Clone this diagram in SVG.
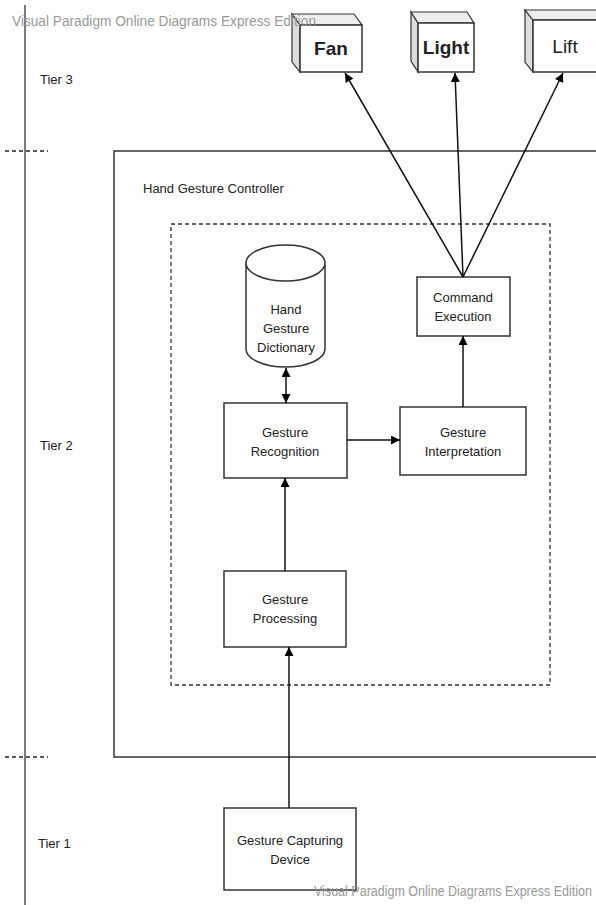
<svg xmlns="http://www.w3.org/2000/svg" width="596" height="905" viewBox="0 0 596 905">
<defs>
<marker id="ah" viewBox="0 0 10 10" refX="10" refY="5" markerWidth="9" markerHeight="9" markerUnits="userSpaceOnUse" orient="auto-start-reverse">
<path d="M0,0 L10,5 L0,10 z" fill="#000"/>
</marker>
</defs>
<style>
text{font-family:"Liberation Sans",Arial,sans-serif;fill:#222;font-size:13px}
.c{text-anchor:middle}
.box{fill:#fff;stroke:#333;stroke-width:1.5}
.wm{fill:#999;font-size:14px}
.conn{stroke:#111;stroke-width:1.5;fill:none}
.side{fill:#ddd;stroke:#333;stroke-width:1.2}
.top{fill:#eee;stroke:#333;stroke-width:1.2}
.big{font-size:19px;font-weight:bold}
</style>
<rect width="596" height="905" fill="#fff"/>
<g id="tiers">
<line x1="25" y1="5" x2="25" y2="905" stroke="#222" stroke-width="1.2"/>
<line x1="5" y1="151" x2="48" y2="151" stroke="#222" stroke-width="1.5" stroke-dasharray="4,3"/>
<line x1="5" y1="757" x2="48" y2="757" stroke="#222" stroke-width="1.5" stroke-dasharray="4,3"/>
<text x="40" y="84">Tier 3</text>
<text x="40" y="450">Tier 2</text>
<text x="38" y="848">Tier 1</text>
</g>
<g id="controller">
<rect x="114" y="151" width="490" height="606" fill="none" stroke="#333" stroke-width="1.5"/>
<text x="143" y="193">Hand Gesture Controller</text>
<rect x="171" y="224" width="379" height="461" fill="none" stroke="#333" stroke-width="1.3" stroke-dasharray="4,3"/>
</g>
<g id="fan">
<path class="side" d="M300,25 L292,14 L292,62 L300,72 z"/>
<path class="top" d="M300,25 L292,14 L354,14 L362,25 z"/>
<rect class="box" x="300" y="25" width="62" height="47"/>
<text class="c big" x="331" y="55">Fan</text>
</g>
<g id="light">
<path class="side" d="M418,23 L411,12 L411,61 L418,72 z"/>
<path class="top" d="M418,23 L411,12 L467,12 L474,23 z"/>
<rect class="box" x="418" y="23" width="56" height="49"/>
<text class="c big" x="446" y="54">Light</text>
</g>
<g id="lift">
<path class="side" d="M533,20 L525,10 L525,62 L533,72 z"/>
<path class="top" d="M533,20 L525,10 L600,10 L608,20 z"/>
<rect class="box" x="533" y="20" width="75" height="52"/>
<text class="c" x="565" y="53" style="font-size:19px">Lift</text>
</g>
<g id="dictionary">
<path class="box" d="M246,263 L246,349 A39.5,18 0 0 0 325,349 L325,263 A39.5,18 0 0 0 246,263 A39.5,18 0 0 0 325,263"/>
<text class="c" x="286" y="314">Hand</text>
<text class="c" x="286" y="333">Gesture</text>
<text class="c" x="286" y="352">Dictionary</text>
</g>
<g id="command">
<rect class="box" x="417" y="277" width="93" height="59"/>
<text class="c" x="463" y="302">Command</text>
<text class="c" x="463" y="321">Execution</text>
</g>
<g id="recognition">
<rect class="box" x="224" y="403" width="123" height="75"/>
<text class="c" x="285" y="437">Gesture</text>
<text class="c" x="285" y="456">Recognition</text>
</g>
<g id="interpretation">
<rect class="box" x="400" y="407" width="126" height="68"/>
<text class="c" x="463" y="437">Gesture</text>
<text class="c" x="463" y="456">Interpretation</text>
</g>
<g id="processing">
<rect class="box" x="224" y="571" width="122" height="76"/>
<text class="c" x="285" y="604">Gesture</text>
<text class="c" x="285" y="623">Processing</text>
</g>
<g id="capturing">
<rect class="box" x="224" y="808" width="132" height="82"/>
<text class="c" x="290" y="845">Gesture Capturing</text>
<text class="c" x="290" y="864">Device</text>
</g>
<g id="connectors">
<line class="conn" x1="463" y1="277" x2="345" y2="73" marker-end="url(#ah)"/>
<line class="conn" x1="463" y1="277" x2="455" y2="73" marker-end="url(#ah)"/>
<line class="conn" x1="463" y1="277" x2="563" y2="73" marker-end="url(#ah)"/>
<line class="conn" x1="286" y1="368" x2="286" y2="403" marker-start="url(#ah)" marker-end="url(#ah)"/>
<line class="conn" x1="347" y1="440" x2="400" y2="440" marker-end="url(#ah)"/>
<line class="conn" x1="463" y1="407" x2="463" y2="336" marker-end="url(#ah)"/>
<line class="conn" x1="285" y1="571" x2="285" y2="478" marker-end="url(#ah)"/>
<line class="conn" x1="289" y1="808" x2="289" y2="647" marker-end="url(#ah)"/>
</g>
<g id="watermarks">
<text class="wm" x="12" y="26" textLength="304" lengthAdjust="spacingAndGlyphs">Visual Paradigm Online Diagrams Express Edition</text>
<text class="wm" x="314" y="896" textLength="278" lengthAdjust="spacingAndGlyphs">Visual Paradigm Online Diagrams Express Edition</text>
</g>
</svg>
